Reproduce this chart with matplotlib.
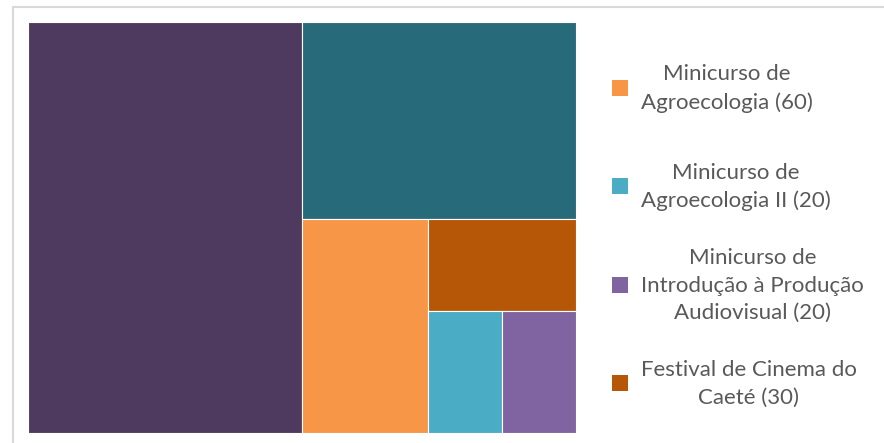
import matplotlib
matplotlib.use("Agg")
import matplotlib.pyplot as plt
from matplotlib.patches import Rectangle

# ---- data ----
categories = ["Categoria A", "Categoria B",
              "Minicurso de\nAgroecologia (60)",
              "Minicurso de\nAgroecologia II (20)",
              "Minicurso de\nIntrodução à Produção\nAudiovisual (20)",
              "Festival de Cinema do\nCaeté (30)"]
values = [250, 120, 60, 20, 20, 30]
colors = ["#4E3A5F", "#276A7A", "#F79646", "#4BACC6", "#8064A2", "#B65708"]
in_legend = [False, False, True, True, True, True]

plt.rcParams['font.family'] = ['Lato', 'DejaVu Sans']

W_PX, H_PX = 884, 443
fig = plt.figure(figsize=(W_PX / 100, H_PX / 100), dpi=100)
fig.patch.set_facecolor("white")

ax_l, ax_t, ax_r, ax_b = 28, 22, 576, 433
ax = fig.add_axes([ax_l / W_PX, 1 - ax_b / H_PX, (ax_r - ax_l) / W_PX, (ax_b - ax_t) / H_PX])
W = (ax_r - ax_l) / (ax_b - ax_t)
H = 1.0
ax.set_xlim(0, W)
ax.set_ylim(H, 0)
ax.axis("off")


def worst(row, side):
    s = sum(row)
    return max(max(side ** 2 * r / s ** 2, s ** 2 / (side ** 2 * r)) for r in row)


def squarify(vals, x, y, w, h):
    rects = []
    vals = list(vals)
    while vals:
        side = min(w, h)
        row = [vals[0]]
        i = 1
        while i < len(vals) and worst(row + [vals[i]], side) <= worst(row, side):
            row.append(vals[i])
            i += 1
        s = sum(row)
        if w >= h:
            cw = s / h
            cy = y
            for r in row:
                rh = r / cw
                rects.append((x, cy, cw, rh))
                cy += rh
            x += cw
            w -= cw
        else:
            rh = s / w
            cx = x
            for r in row:
                rw = r / rh
                rects.append((cx, y, rw, rh))
                cx += rw
            y += rh
            h -= rh
        vals = vals[i:]
    return rects


order = sorted(range(len(values)), key=lambda k: -values[k])
total = sum(values)
scaled = [values[k] * W * H / total for k in order]
rects = squarify(scaled, 0, 0, W, H)
for k, (x, y, w, h) in zip(order, rects):
    ax.add_patch(Rectangle((x, y), w, h, facecolor=colors[k], edgecolor="white", linewidth=0.8))

# chart area border
fig.add_artist(Rectangle((12.5 / W_PX, -0.2), 2, 1 - 6.5 / H_PX + 0.2, transform=fig.transFigure,
                         fill=False, edgecolor="#D9D9D9", linewidth=1.5))

# legend (manual)
leg_items = [k for k in range(len(values)) if in_legend[k]]
y0, dy = 87.5, 98.5
for j, k in enumerate(leg_items):
    yc = y0 + j * dy
    fig.add_artist(Rectangle((612 / W_PX, 1 - (yc + 8) / H_PX), 16 / W_PX, 16 / H_PX,
                             transform=fig.transFigure, facecolor=colors[k], edgecolor="none"))
    fig.text(641 / W_PX, 1 - (yc + 1) / H_PX, categories[k], ha="left", va="center",
             multialignment="center", fontsize=16, color="#595959", linespacing=1.45)

fig.savefig("out.png", dpi=100)
